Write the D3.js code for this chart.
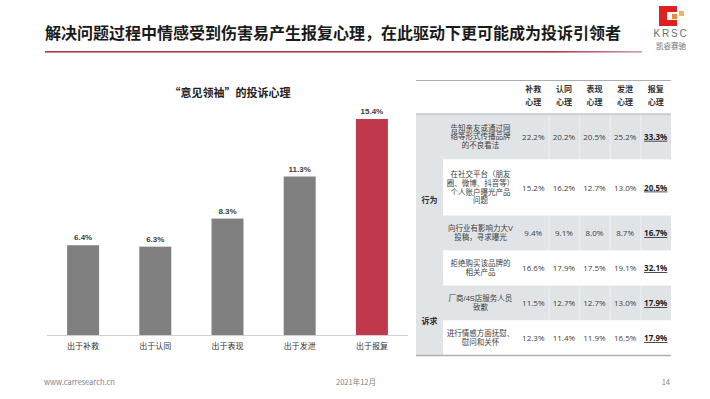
<!DOCTYPE html>
<html>
<head>
<meta charset="utf-8">
<script src="https://cdn.jsdelivr.net/npm/d3@7"></script>
<style>
	body { margin: 0; background: #fff; }
	svg { display: block; font-family: "Noto Sans CJK SC", "Noto Sans", sans-serif; }
</style>
</head>
<body>
<svg id="viz" width="710" height="399"></svg>
<script>
var pageTitle = "解决问题过程中情感受到伤害易产生报复心理，在此驱动下更可能成为投诉引领者";
var chartTitle = "“意见领袖”的投诉心理";
var categories = ["出于补救", "出于认同", "出于表现", "出于发泄", "出于报复"];
var shares = [6.4, 6.3, 8.3, 11.3, 15.4];

var tableHeaders = ["补救心理", "认同心理", "表现心理", "发泄心理", "报复心理"];
var tableGroups = [{ name: "行为", from: 0, to: 3 }, { name: "诉求", from: 4, to: 5 }];
var tableItems = [
	["告知亲友或通过网", "络等形式传播品牌", "的不良看法"],
	["在社交平台（朋友", "圈、微博、抖音等）", "个人账户曝光产品", "问题"],
	["向行业有影响力大V", "投稿，寻求曝光"],
	["拒绝购买该品牌的", "相关产品"],
	["厂商/4S店服务人员", "致歉"],
	["进行情感方面抚慰、", "慰问和关怀"]
];
var tableValues = [
	[22.2, 20.2, 20.5, 25.2, 33.3],
	[15.2, 16.2, 12.7, 13.0, 20.5],
	[9.4, 9.1, 8.0, 8.7, 16.7],
	[16.6, 17.9, 17.5, 19.1, 32.1],
	[11.5, 12.7, 12.7, 13.0, 17.9],
	[12.3, 11.4, 11.9, 16.5, 17.9]
];
var footerLeft = "www.carresearch.cn", footerMid = "2021年12月", footerRight = "14";

var svg = d3.select("#viz");
var red = "#c0384b", grey = "#808080", rowFill = "#e0e4e7";
var tightFont = "'Liberation Sans', 'Noto Sans CJK SC', sans-serif"; // small line boxes for stacked lines

// header
svg.append("text")
	.attr("x", 45).attr("y", 39)
	.attr("font-size", 16).attr("font-weight", "bold").attr("fill", "#1a1a1a")
	.text(pageTitle);
var grad = svg.append("defs").append("linearGradient").attr("id", "rule");
grad.append("stop").attr("offset", "0%").attr("stop-color", "#b8324a");
grad.append("stop").attr("offset", "85%").attr("stop-color", "#b8324a");
grad.append("stop").attr("offset", "100%").attr("stop-color", "#c9a0a8");
svg.append("rect").attr("x", 45).attr("y", 51).attr("width", 597).attr("height", 1.6).attr("fill", "url(#rule)");

// logo
var logo = svg.append("g").attr("class", "logo");
logo.append("path")
	.attr("d", "M659,6 H677 V12 H667 V20 H677 V26 H659 Z")
	.attr("fill", "#e02020");
logo.append("rect").attr("x", 672).attr("y", 14).attr("width", 5).attr("height", 5).attr("fill", "#f08a30");
logo.append("rect").attr("x", 679).attr("y", 11).attr("width", 5).attr("height", 5).attr("fill", "#f6b070");
logo.append("text").attr("x", 671).attr("y", 37).attr("text-anchor", "middle")
	.attr("font-size", 10).attr("letter-spacing", 1.8).attr("fill", "#6b6b6b").attr("font-family", "Liberation Sans")
	.text("KRSC");
logo.append("text").attr("x", 671).attr("y", 48.5).attr("text-anchor", "middle")
	.attr("font-size", 7.5).attr("fill", "#6b6b6b").text("凯睿赛驰");

// bar chart
var x = d3.scaleBand().domain(categories).range([47, 408]).paddingInner(0.557).paddingOuter(0.2785);
var y = d3.scaleLinear().domain([0, 15.4]).range([335, 119]);

svg.append("text")
	.attr("x", 230).attr("y", 97).attr("text-anchor", "middle")
	.attr("font-size", 11).attr("font-weight", "bold").attr("fill", "#222")
	.text(chartTitle);

var bars = svg.append("g").attr("class", "bars").selectAll("g")
	.data(categories.map(function (c, i) { return { cat: c, v: shares[i], last: i === categories.length - 1 }; }))
	.enter().append("g");
bars.append("rect")
	.attr("x", function (d) { return x(d.cat); })
	.attr("y", function (d) { return y(d.v); })
	.attr("width", x.bandwidth())
	.attr("height", function (d) { return y(0) - y(d.v); })
	.attr("fill", function (d) { return d.last ? red : grey; });
bars.append("text")
	.attr("x", function (d) { return x(d.cat) + x.bandwidth() / 2; })
	.attr("y", function (d) { return y(d.v) - 5; })
	.attr("text-anchor", "middle")
	.attr("font-size", 8).attr("font-weight", "bold").attr("fill", "#404040")
	.attr("font-family", "Liberation Sans")
	.text(function (d) { return d.v.toFixed(1) + "%"; });

var xAxis = svg.append("g").attr("transform", "translate(0," + y(0) + ")")
	.call(d3.axisBottom(x).tickSize(0).tickPadding(8));
xAxis.select(".domain").attr("d", "M47,0.5H408").attr("stroke", "#d0d0d0");
xAxis.selectAll("text").attr("font-size", 8).attr("fill", "#333").attr("font-family", "Noto Sans CJK SC");

// table
var tLeft = 416, tGroupW = 27, tItemW = 75, tRight = 671, tTop = 80, tHeadBottom = 114;
var col = d3.scaleBand().domain(tableHeaders).range([tLeft + tGroupW + tItemW, tRight]);
var rowH = tableItems.map(function (lines) { return Math.max(35, lines.length * 10.5 + 14); });
var rowY = [tHeadBottom];
rowH.forEach(function (h, i) { rowY.push(rowY[i] + h); });
var tBottom = rowY[rowY.length - 1];

var table = svg.append("g").attr("class", "table");
table.append("rect").attr("x", tLeft).attr("y", tHeadBottom).attr("width", tGroupW).attr("height", tBottom - tHeadBottom).attr("fill", rowFill);
var rows = table.selectAll("g.row").data(tableItems).enter().append("g").attr("class", "row");
rows.append("rect")
	.attr("x", function (d, i) { return i % 2 ? tLeft + tGroupW : tLeft; })
	.attr("y", function (d, i) { return rowY[i]; })
	.attr("width", function (d, i) { return i % 2 ? tRight - tLeft - tGroupW : tRight - tLeft; })
	.attr("height", function (d, i) { return rowH[i]; })
	.attr("fill", function (d, i) { return i % 2 ? "#fff" : rowFill; });
// faint column dividers on the shaded rows
rows.filter(function (d, i) { return i % 2 === 0; }).each(function (d) {
	var r = tableItems.indexOf(d);
	d3.select(this).selectAll("line").data(tableHeaders.slice(1)).enter().append("line")
		.attr("x1", function (h) { return col(h) + 0.5; }).attr("x2", function (h) { return col(h) + 0.5; })
		.attr("y1", rowY[r]).attr("y2", rowY[r + 1])
		.attr("stroke", "#eef0f2").attr("stroke-width", 1);
});
rows.append("text")
	.attr("text-anchor", "middle").attr("font-size", 7.5).attr("fill", "#404040")
	.attr("font-family", tightFont)
	.each(function (lines, i) {
		var cy = rowY[i] + rowH[i] / 2, lh = 8.6;
		d3.select(this).selectAll("tspan").data(lines).enter().append("tspan")
			.attr("x", tLeft + tGroupW + tItemW / 2)
			.attr("y", function (l, j) { return cy + (j - (lines.length - 1) / 2) * lh + 2.7; })
			.text(function (l) { return l; });
	});
rows.each(function (lines, i) {
	var cy = rowY[i] + rowH[i] / 2;
	d3.select(this).selectAll("text.val").data(tableValues[i]).enter().append("text")
		.attr("class", "val")
		.attr("x", function (v, j) { return col(tableHeaders[j]) + col.bandwidth() / 2; })
		.attr("y", cy + 3)
		.attr("text-anchor", "middle").attr("font-size", 8)
		.attr("font-family", "Open Sans")
		.attr("font-weight", function (v, j) { return j === tableHeaders.length - 1 ? "bold" : null; })
		.attr("text-decoration", function (v, j) { return j === tableHeaders.length - 1 ? "underline" : null; })
		.attr("fill", function (v, j) { return j === tableHeaders.length - 1 ? "#222" : "#404040"; })
		.text(function (v) { return v.toFixed(1) + "%"; });
});
table.selectAll("text.group").data(tableGroups).enter().append("text")
	.attr("class", "group")
	.attr("x", tLeft + tGroupW / 2)
	.attr("y", function (g) { return (rowY[g.from] + rowY[g.to + 1]) / 2 + 3; })
	.attr("text-anchor", "middle").attr("font-size", 8).attr("font-weight", "bold").attr("fill", "#333")
	.text(function (g) { return g.name; });
table.selectAll("text.head").data(tableHeaders).enter().append("text")
	.attr("class", "head")
	.attr("text-anchor", "middle").attr("font-size", 8).attr("font-weight", "bold").attr("fill", "#333")
	.each(function (h) {
		d3.select(this).selectAll("tspan").data([h.slice(0, 2), h.slice(2)]).enter().append("tspan")
			.attr("x", col(h) + col.bandwidth() / 2)
			.attr("y", function (l, j) { return 92 + j * 13; })
			.text(function (l) { return l; });
	});
table.append("line").attr("x1", tLeft).attr("x2", tRight).attr("y1", tTop + 0.5).attr("y2", tTop + 0.5).attr("stroke", "#a9b0b5");
table.append("line").attr("x1", tLeft).attr("x2", tRight).attr("y1", tHeadBottom).attr("y2", tHeadBottom).attr("stroke", "#a9b0b5");
table.append("line").attr("x1", tLeft).attr("x2", tRight).attr("y1", tBottom).attr("y2", tBottom).attr("stroke", "#a9b0b5").attr("stroke-width", 1.5);

// footer
var foot = svg.append("g").attr("font-size", 7.5).attr("fill", "#7f7f7f");
foot.append("text").attr("x", 44).attr("y", 385).text(footerLeft);
foot.append("text").attr("x", 356).attr("y", 385).attr("text-anchor", "middle").text(footerMid);
foot.append("text").attr("x", 670).attr("y", 385).attr("text-anchor", "end").text(footerRight);
</script>
</body>
</html>
